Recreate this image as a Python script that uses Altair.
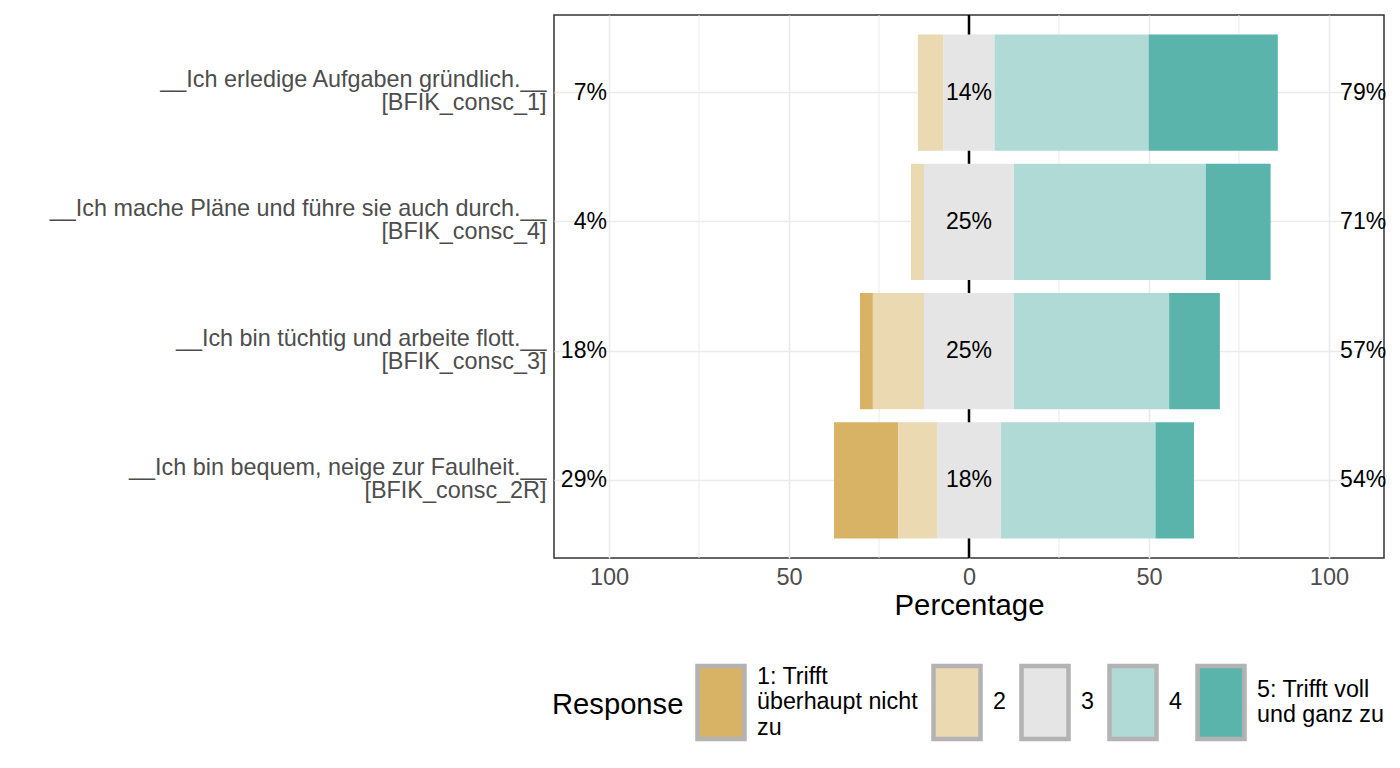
import altair as alt
import pandas as pd

# ---- data ----
items = [
    "__Ich erledige Aufgaben gründlich.__\n[BFIK_consc_1]",
    "__Ich mache Pläne und führe sie auch durch.__\n[BFIK_consc_4]",
    "__Ich bin tüchtig und arbeite flott.__\n[BFIK_consc_3]",
    "__Ich bin bequem, neige zur Faulheit.__\n[BFIK_consc_2R]",
]
responses = ["1: Trifft\nüberhaupt nicht\nzu", "2", "3", "4", "5: Trifft voll\nund ganz zu"]
colors = ["#D8B365", "#EBD9B2", "#E5E5E5", "#AFDAD6", "#5AB4AC"]

resp_1 = [0.0, 0.0, 3.6, 17.8]
resp_2 = [7.1, 3.6, 14.2, 10.8]
resp_3 = [14.2, 25.0, 25.0, 17.8]
resp_4 = [42.8, 53.3, 43.1, 42.9]
resp_5 = [35.9, 18.0, 14.1, 10.7]

x_ticks = [-100, -50, 0, 50, 100]
minor_grid = [-75, -25, 25, 75]

# ---- style constants ----
FONT = "Liberation Sans"
LEFT_LABEL_X = -100.6
RIGHT_LABEL_X = 103.1
X_DOMAIN = [-115.3, 115.3]

# ---- build tables ----
seg_rows = []
lab_rows = []
for i, item in enumerate(items):
    vals = [resp_1[i], resp_2[i], resp_3[i], resp_4[i], resp_5[i]]
    start = -(vals[0] + vals[1] + vals[2] / 2)
    for r, v in zip(responses, vals):
        if v > 0:
            seg_rows.append({"item": item, "response": r, "x": start, "x2": start + v})
        start += v
    lab_rows.append({
        "item": item,
        "low": f"{round(vals[0] + vals[1])}%",
        "mid": f"{round(vals[2])}%",
        "high": f"{round(vals[3] + vals[4])}%",
        "lx": LEFT_LABEL_X, "mx": 0, "hx": RIGHT_LABEL_X,
    })
segs = pd.DataFrame(seg_rows)
labs = pd.DataFrame(lab_rows)
minor = pd.DataFrame({"v": minor_grid})
zero = pd.DataFrame({"v": [0]})

xscale = alt.Scale(domain=X_DOMAIN, nice=False, zero=False)
yscale = alt.Scale(domain=items, paddingInner=0.1, paddingOuter=0.15)

xaxis = alt.Axis(
    values=x_ticks, labelExpr="abs(datum.value)", title="Percentage",
    domain=False, ticks=False, grid=True, gridColor="#EBEBEB", gridWidth=1.6,
    labelFontSize=23.5, labelColor="#4D4D4D", labelPadding=7, labelFont=FONT,
    titleFontSize=29.3, titleFontWeight="normal", titleColor="black", titlePadding=3, titleFont=FONT,
)
yaxis = alt.Axis(
    title=None, domain=False, ticks=False, grid=True, gridColor="#EBEBEB", gridWidth=1.6,
    tickBand="center", labelExpr="split(datum.label, '\\n')", labelFontSize=23.4,
    labelColor="#4D4D4D", labelPadding=8, labelLineHeight=23, labelOffset=-12.5,
    labelLimit=700, labelFont=FONT,
)

# multi-line legend labels: pick a baseline per entry so every label block is centred
n_lines = "length(split(datum.label, '\\n'))"
legend_baseline = {"expr": f"{n_lines} >= 3 ? 'line-bottom' : ({n_lines} == 2 ? 'middle' : 'line-top')"}

minor_layer = alt.Chart(minor).mark_rule(color="#EBEBEB", strokeWidth=1).encode(
    x=alt.X("v:Q", scale=xscale, axis=xaxis)
)
zero_layer = alt.Chart(zero).mark_rule(color="black", strokeWidth=2.5).encode(
    x=alt.X("v:Q", scale=xscale)
)
bars = alt.Chart(segs).mark_bar(opacity=1).encode(
    x=alt.X("x:Q", scale=xscale, axis=xaxis),
    x2="x2:Q",
    y=alt.Y("item:N", scale=yscale, axis=yaxis, sort=items),
    color=alt.Color(
        "response:N",
        scale=alt.Scale(domain=responses, range=colors),
        legend=alt.Legend(
            title="Response", orient="none", legendX=-2, legendY=636,
            direction="horizontal", titleOrient="left", titleAnchor="middle",
            titleBaseline="line-top", titleLineHeight=14, titleFontSize=29.2,
            titleFontWeight="normal", titleColor="black", titlePadding={"expr": "-2"},
            titleFont=FONT,
            labelExpr="split(datum.label, '\\n')", labelFontSize=23.3, labelColor="black",
            labelLimit=400, labelOffset={"expr": "-3"}, labelFont=FONT,
            labelBaseline=legend_baseline,
            symbolType="M-0.644,-0.66H0.644V1.34H-0.644Z", symbolSize=5329,
            symbolStrokeColor="#B3B3B3", symbolStrokeWidth=4.5, symbolOpacity=1,
            columnPadding={"expr": "-1"},
        ),
    ),
)
text_style = dict(fontSize=23, color="black", font=FONT, baseline="middle")
low_t = alt.Chart(labs).mark_text(align="right", **text_style).encode(
    x=alt.X("lx:Q", scale=xscale), y=alt.Y("item:N", scale=yscale, sort=items), text="low:N")
mid_t = alt.Chart(labs).mark_text(align="center", **text_style).encode(
    x=alt.X("mx:Q", scale=xscale), y=alt.Y("item:N", scale=yscale, sort=items), text="mid:N")
high_t = alt.Chart(labs).mark_text(align="left", **text_style).encode(
    x=alt.X("hx:Q", scale=xscale), y=alt.Y("item:N", scale=yscale, sort=items), text="high:N")

chart = alt.layer(minor_layer, zero_layer, bars, low_t, mid_t, high_t).properties(
    width=830, height=543,
    padding={"left": 546, "top": 7, "right": 8, "bottom": 202},
    autosize=alt.AutoSizeParams(type="none"),
).configure(font=FONT, background="white").configure_view(stroke="#333333", strokeWidth=1.5)

chart.save("out.html", embed_options={"renderer": "svg", "actions": False})
